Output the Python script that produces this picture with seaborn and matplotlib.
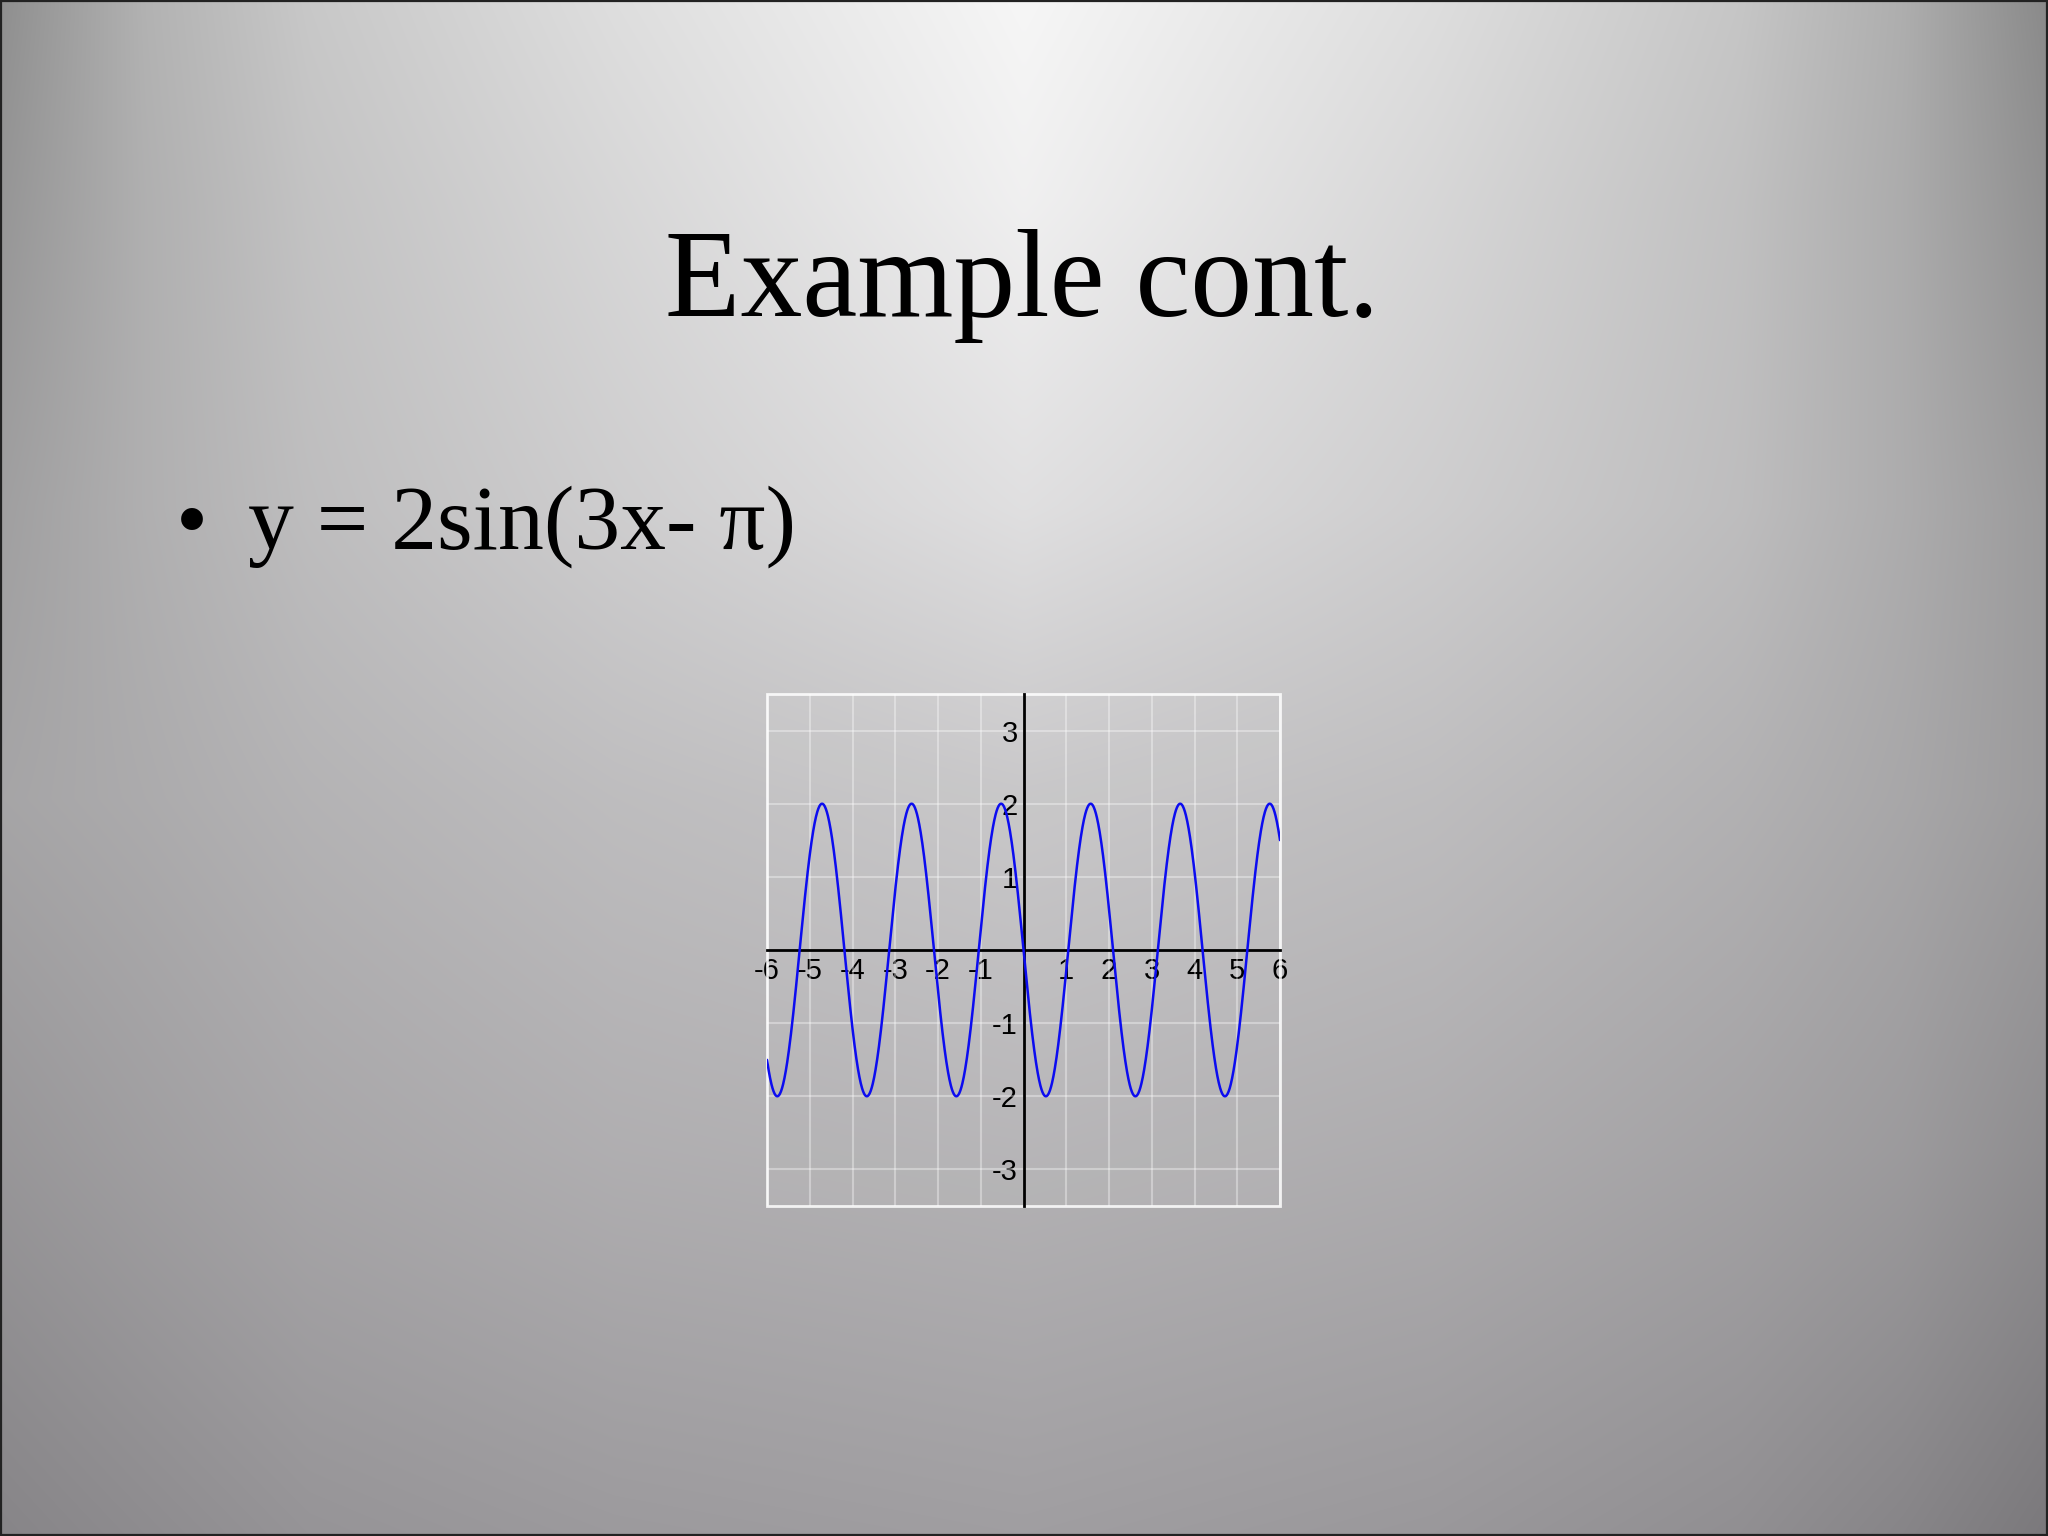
import numpy as np
import pandas as pd
import matplotlib
matplotlib.use("Agg")
import matplotlib.pyplot as plt
import seaborn as sns
from matplotlib.patches import Rectangle

# curve shown on the slide: y = 2sin(3x - pi)
amplitude = 2.0
frequency = 3.0
phase = np.pi
x_range = (-6, 6)
y_range = (-3.5, 3.5)
x_ticks = [-6, -5, -4, -3, -2, -1, 1, 2, 3, 4, 5, 6]
y_ticks = [-3, -2, -1, 1, 2, 3]

title_text = "Example cont."
bullet_text = "y = 2sin(3x- \u03c0)"

x = np.linspace(x_range[0], x_range[1], 1500)
df = pd.DataFrame({"x": x, "y": amplitude * np.sin(frequency * x - phase)})

sns.set_style("white")
plt.rcParams["font.family"] = ["Liberation Sans", "DejaVu Sans"]

W, H = 2048, 1536
fig = plt.figure(figsize=(W / 100, H / 100), dpi=100)

# slide background shading (grey levels sampled off the slide, blended smoothly)
bg_cols = [0, 0.07, 0.15, 0.3, 0.5, 0.7, 0.85, 0.93, 1]
bg_rows = [0, 0.13, 0.33, 0.52, 0.75, 1]
bg_levels = np.array([
    [143, 178, 200, 222, 246, 222, 198, 174, 138],
    [150, 176, 195, 215, 240, 215, 193, 172, 145],
    [160, 176, 190, 206, 224, 206, 190, 173, 155],
    [166, 172, 180, 190, 198, 190, 178, 168, 156],
    [152, 160, 168, 176, 180, 174, 164, 156, 143],
    [135, 142, 150, 156, 160, 154, 145, 135, 123],
], dtype=float)
gx = np.linspace(0, 1, W // 4)
gy = np.linspace(0, 1, H // 4)
rows = np.array([np.interp(gx, bg_cols, r) for r in bg_levels])
shade = np.array([np.interp(gy, bg_rows, rows[:, j]) for j in range(len(gx))]).T / 255
tint = gy[:, None] * np.ones_like(shade)
img = np.dstack([shade, shade - 0.008 * tint, shade + 0.004 * tint])

bg = fig.add_axes([0, 0, 1, 1])
bg.imshow(np.clip(img, 0, 1), extent=[0, 1, 0, 1], aspect="auto", origin="upper",
          interpolation="bilinear")
bg.set_xlim(0, 1)
bg.set_ylim(0, 1)
bg.axis("off")
bg.add_patch(Rectangle((0.0005, 0.0007), 0.999, 0.9986, fill=False,
                       edgecolor="#222222", lw=1.6))

serif = ["Liberation Serif", "DejaVu Serif"]
bg.text(0.499, 1 - 316 / H, title_text, ha="center", va="baseline",
        fontsize=89, family=serif, color="black")
bg.text(176 / W, 1 - 549 / H, "\u2022", ha="left", va="baseline",
        fontsize=66, family=serif, color="black")
bg.text(248 / W, 1 - 549 / H, bullet_text, ha="left", va="baseline",
        fontsize=66, family=serif, color="black")

# graph
left, right, top, bottom = 767, 1280, 694, 1206
ax = fig.add_axes([left / W, 1 - bottom / H, (right - left) / W, (bottom - top) / H])
ax.set_facecolor((1, 1, 1, 0.05))
sns.lineplot(data=df, x="x", y="y", ax=ax, color="#0c0cf0", lw=1.8, zorder=3)
ax.set_xlim(*x_range)
ax.set_ylim(*y_range)

for g in range(x_range[0], x_range[1] + 1):
    ax.axvline(g, color="white", alpha=0.35, lw=1.5, zorder=1)
for g in y_ticks:
    ax.axhline(g, color="white", alpha=0.35, lw=1.5, zorder=1)

ax.spines["left"].set_position("zero")
ax.spines["bottom"].set_position("zero")
for s in ["left", "bottom"]:
    ax.spines[s].set_color("black")
    ax.spines[s].set_linewidth(2)
    ax.spines[s].set_zorder(2)
ax.spines["top"].set_visible(False)
ax.spines["right"].set_visible(False)
ax.add_patch(Rectangle((0, 0), 1, 1, transform=ax.transAxes, fill=False,
                       edgecolor="white", lw=2, alpha=0.85, clip_on=False, zorder=1))

ax.set_xticks(x_ticks)
ax.set_yticks(y_ticks)
ax.set_xticklabels([str(v) for v in x_ticks])
ax.set_yticklabels([str(v) for v in y_ticks])
ax.tick_params(axis="both", direction="in", length=8, width=1.5, color="black",
               labelsize=21, labelcolor="black")
ax.tick_params(axis="x", pad=5)
ax.tick_params(axis="y", pad=4)
ax.set_xlabel("")
ax.set_ylabel("")
ax.grid(False)

fig.savefig("out.png", dpi=100)
